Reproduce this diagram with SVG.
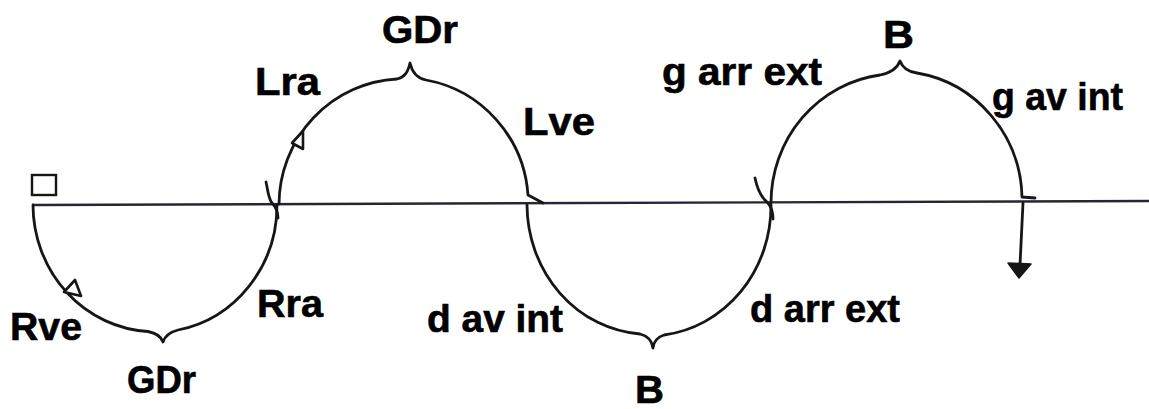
<svg xmlns="http://www.w3.org/2000/svg" width="1149" height="409" viewBox="0 0 1149 409">
<style>
.lbl{font-family:"Liberation Sans",Arial,sans-serif;font-weight:bold;font-size:38px;fill:#000;stroke:#000;stroke-width:0.6}
.arc{fill:none;stroke:#161616;stroke-width:2.8;stroke-linecap:round;stroke-linejoin:round}
.axis{fill:none;stroke:#262636;stroke-width:2.4}
.open{fill:#fff;stroke:#161616;stroke-width:2.6;stroke-linejoin:round}
.solid{fill:#161616;stroke:#161616;stroke-width:1.5;stroke-linejoin:round}
</style>
<rect width="1149" height="409" fill="#fff"/>
<g id="start-box"><rect x="32" y="175" width="24" height="20" fill="none" stroke="#161616" stroke-width="2.4"/></g>
<g id="connectors">
<path class="axis" d="M33,205 L1149,201"/>
<path class="arc" d="M33,205 A122 127 0 0 0 148,331.5 C156,333 161,336 163,342 C165,336 170,332 178,330 A122 127 0 0 0 277,205"/>
<path class="arc" d="M279,204 A124.5 126 0 0 1 397,79 C405,77 408,72 410,63 C412,72 416,78 426,80 A124.5 126 0 0 1 528,195 L543,203"/>
<path class="arc" d="M527,205 A122 130 0 0 0 640,334 C648,336 652,340 653,348 C654,340 658,337 664,335 A122 130 0 0 0 771,205"/>
<path class="arc" d="M771,203 A125.5 129 0 0 1 880,75 C890,73 897,69 900,61 C903,69 909,72 917,73 A125.5 129 0 0 1 1022,197 L1035,198"/>
<path class="arc" d="M1023,203 L1020,265"/>
<path class="arc" d="M266,182 C268,190 268,198 272,203 C276,207 278,212 278,218"/>
<path class="arc" d="M755,178 C757,188 760,196 767,202 C771,206 773,211 773,219"/>
<polygon class="open" points="64,292 75,280 81,296"/>
<polygon class="open" points="303,131 292,143 303,149"/>
<polygon class="solid" points="1008,263 1031,264 1019,278"/>
</g>
<g id="label-GDr-top"><text class="lbl" x="382" y="43" textLength="76" lengthAdjust="spacingAndGlyphs">GDr</text></g>
<g id="label-Lra"><text class="lbl" x="255" y="95" textLength="65" lengthAdjust="spacingAndGlyphs">Lra</text></g>
<g id="label-Lve"><text class="lbl" x="523" y="135" textLength="72" lengthAdjust="spacingAndGlyphs">Lve</text></g>
<g id="label-B-top"><text class="lbl" x="883" y="48" textLength="31" lengthAdjust="spacingAndGlyphs">B</text></g>
<g id="label-g-arr-ext"><text class="lbl" x="662" y="85" textLength="160" lengthAdjust="spacingAndGlyphs">g arr ext</text></g>
<g id="label-g-av-int"><text class="lbl" x="992" y="110" textLength="131" lengthAdjust="spacingAndGlyphs">g av int</text></g>
<g id="label-Rve"><text class="lbl" x="10" y="340" textLength="72" lengthAdjust="spacingAndGlyphs">Rve</text></g>
<g id="label-GDr-bottom"><text class="lbl" x="127" y="393" textLength="69" lengthAdjust="spacingAndGlyphs">GDr</text></g>
<g id="label-Rra"><text class="lbl" x="257" y="317" textLength="66" lengthAdjust="spacingAndGlyphs">Rra</text></g>
<g id="label-d-av-int"><text class="lbl" x="427" y="332" textLength="136" lengthAdjust="spacingAndGlyphs">d av int</text></g>
<g id="label-d-arr-ext"><text class="lbl" x="750" y="322" textLength="150" lengthAdjust="spacingAndGlyphs">d arr ext</text></g>
<g id="label-B-bottom"><text class="lbl" x="635" y="403" textLength="29" lengthAdjust="spacingAndGlyphs">B</text></g>
</svg>
